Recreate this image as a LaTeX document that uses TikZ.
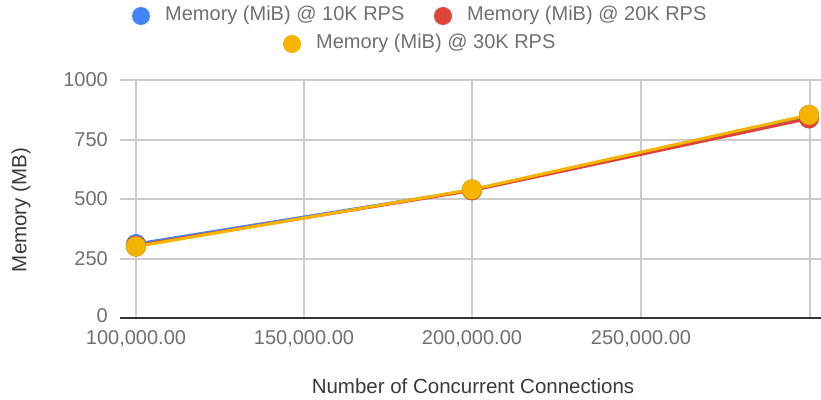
\documentclass[tikz,border=0pt]{standalone}
\usepackage{fontspec}
\setmainfont{Liberation Sans}
\definecolor{gblue}{HTML}{4285F4}
\definecolor{gred}{HTML}{DB4437}
\definecolor{gyellow}{HTML}{F4B400}
\definecolor{gridc}{HTML}{CCCCCC}
\definecolor{ticktxt}{HTML}{707070}
\definecolor{titletxt}{HTML}{3A3A3A}
\definecolor{axisc}{HTML}{333333}
\begin{document}
\begin{tikzpicture}[x=1pt,y=-1pt,
  grid/.style={draw=gridc,line width=1.1pt},
  ticklab/.style={text=ticktxt,font=\fontsize{20}{22}\selectfont,inner sep=0pt},
  axtitle/.style={text=titletxt,font=\fontsize{20.5}{22}\selectfont,inner sep=0pt},
  legtxt/.style={text=ticktxt,font=\fontsize{20}{22}\selectfont,inner sep=0pt,anchor=west},
  series/.style={line width=3pt,line join=round,line cap=round},
  dot/.style={circle,inner sep=0pt,minimum size=20pt},
  legdot/.style={circle,inner sep=0pt,minimum size=18pt}]
\useasboundingbox (0,0) rectangle (821,399);
\fill[white] (0,0) rectangle (821,399);

% horizontal gridlines and value labels
\foreach \v/\y in {1000/80,750/140,500/199,250/259}{
  \draw[grid] (120,\y) -- (821,\y);
  \node[ticklab,anchor=east] at (108,\y) {\v};
}
\node[ticklab,anchor=east] (zero) at (108,316) {0};

% vertical gridlines and category labels
\foreach \x/\t in {136/{100,000.00},304/{150,000.00},472/{200,000.00},641/{250,000.00}}{
  \draw[grid] (\x,80) -- (\x,318);
  \node[ticklab] at (\x,338.5) {\t};
}
\draw[grid] (810,80) -- (810,318);

% baseline
\draw[axisc,line width=1.2pt] (120,318) -- (821,318);

% axis titles
\node[axtitle] (xt) at (473,386) {Number of Concurrent Connections};
\node[axtitle,rotate=90] (yt) at (21,210) {Memory (MB)};

% data points
\coordinate (b1) at (136,244);   \coordinate (b2) at (472,190);   \coordinate (b3) at (809,116);
\coordinate (r1) at (136,245.5); \coordinate (r2) at (472,190.5); \coordinate (r3) at (809,118.5);
\coordinate (y1) at (136,246.5); \coordinate (y2) at (472,189.5); \coordinate (y3) at (809,115);

\draw[series,gblue] (b1) -- (b2) -- (b3);
\draw[series,gred] (r1) -- (r2) -- (r3);
\draw[series,gyellow] (y1) -- (y2) -- (y3);

\foreach \p in {b1,b2,b3}{\node[dot,fill=gblue] at (\p) {};}
\foreach \p in {r1,r2,r3}{\node[dot,fill=gred] at (\p) {};}
\foreach \p in {y1,y2,y3}{\node[dot,fill=gyellow,draw=gyellow!85!black,line width=0.4pt] at (\p) {};}

% legend
\node[legdot,fill=gblue] (l1) at (141,16) {};
\node[legtxt] (t1) at (165,15) {Memory (MiB) @ 10K RPS};
\node[legdot,fill=gred] (l2) at (443,16) {};
\node[legtxt] (t2) at (467,15) {Memory (MiB) @ 20K RPS};
\node[legdot,fill=gyellow] (l3) at (292,44) {};
\node[legtxt] (t3) at (316,43) {Memory (MiB) @ 30K RPS};
\end{tikzpicture}
\end{document}
